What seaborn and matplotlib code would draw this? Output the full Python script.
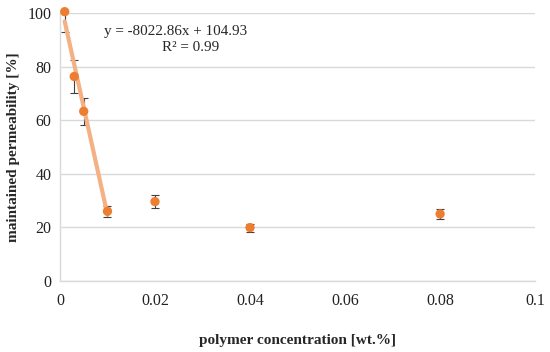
import pandas as pd
import seaborn as sns
import matplotlib
matplotlib.use("Agg")
import matplotlib.pyplot as plt

# data
concentration = [0.001, 0.003, 0.005, 0.01, 0.02, 0.04, 0.08]
permeability = [100.5, 76.3, 63.3, 26.0, 29.6, 19.9, 25.0]
perm_err = [7.5, 6.0, 5.0, 2.0, 2.5, 1.5, 2.0]

# linear fit shown on the chart (first four points)
fit_slope = -8022.86
fit_intercept = 104.93
fit_r2 = 0.99
fit_x = [0.001, 0.01]

x_ticks = [0, 0.02, 0.04, 0.06, 0.08, 0.1]
x_tick_labels = ["0", "0.02", "0.04", "0.06", "0.08", "0.1"]
y_ticks = [0, 20, 40, 60, 80, 100]


def main():
    sns.set_style("white")
    plt.rcParams["font.family"] = ["Liberation Serif", "DejaVu Serif"]

    df = pd.DataFrame({"x": concentration, "y": permeability, "err": perm_err})
    fit_df = pd.DataFrame({"x": fit_x})
    fit_df["y"] = fit_slope * fit_df["x"] + fit_intercept

    fig = plt.figure(figsize=(5.5, 3.52), dpi=100)
    ax = fig.add_axes([0.109, 0.202, 0.864, 0.761])

    ax.errorbar(df["x"], df["y"], yerr=df["err"], fmt="none",
                ecolor="#404040", elinewidth=0.8, capsize=3, capthick=0.8,
                zorder=2)
    sns.lineplot(data=fit_df, x="x", y="y", ax=ax, color="#F4B183",
                 linewidth=3, zorder=3)
    sns.scatterplot(data=df, x="x", y="y", ax=ax, color="#ED7D31",
                    s=45, edgecolor="none", zorder=4, clip_on=False)

    ax.set_xlim(0, 0.1)
    ax.set_ylim(0, 100)
    ax.set_xticks(x_ticks)
    ax.set_xticklabels(x_tick_labels)
    ax.set_yticks(y_ticks)
    ax.tick_params(axis="both", labelsize=11.5, length=0, colors="#222222")
    ax.tick_params(axis="x", pad=9)
    ax.tick_params(axis="y", pad=6)
    ax.yaxis.grid(True, color="#D9D9D9", linewidth=1)
    ax.set_axisbelow(True)
    for side in ["top", "right"]:
        ax.spines[side].set_visible(False)
    for side in ["left", "bottom"]:
        ax.spines[side].set_color("#D9D9D9")
        ax.spines[side].set_linewidth(1)

    ax.set_xlabel("polymer concentration [wt.%]", fontsize=11,
                  fontweight="bold", labelpad=18)
    ax.set_ylabel("maintained permeability [%]", fontsize=11,
                  fontweight="bold")
    ax.yaxis.set_label_coords(-0.097, 0.5)
    ax.yaxis.label.set_verticalalignment("center")

    ax.text(0.0244, 93, f"y = {fit_slope:.2f}x + {fit_intercept:.2f}",
            fontsize=10.9, ha="center", va="center")
    ax.text(0.0274, 87.3, f"R² = {fit_r2:.2f}", fontsize=10.9,
            ha="center", va="center")

    fig.savefig("out.png", dpi=100)


if __name__ == "__main__":
    main()
